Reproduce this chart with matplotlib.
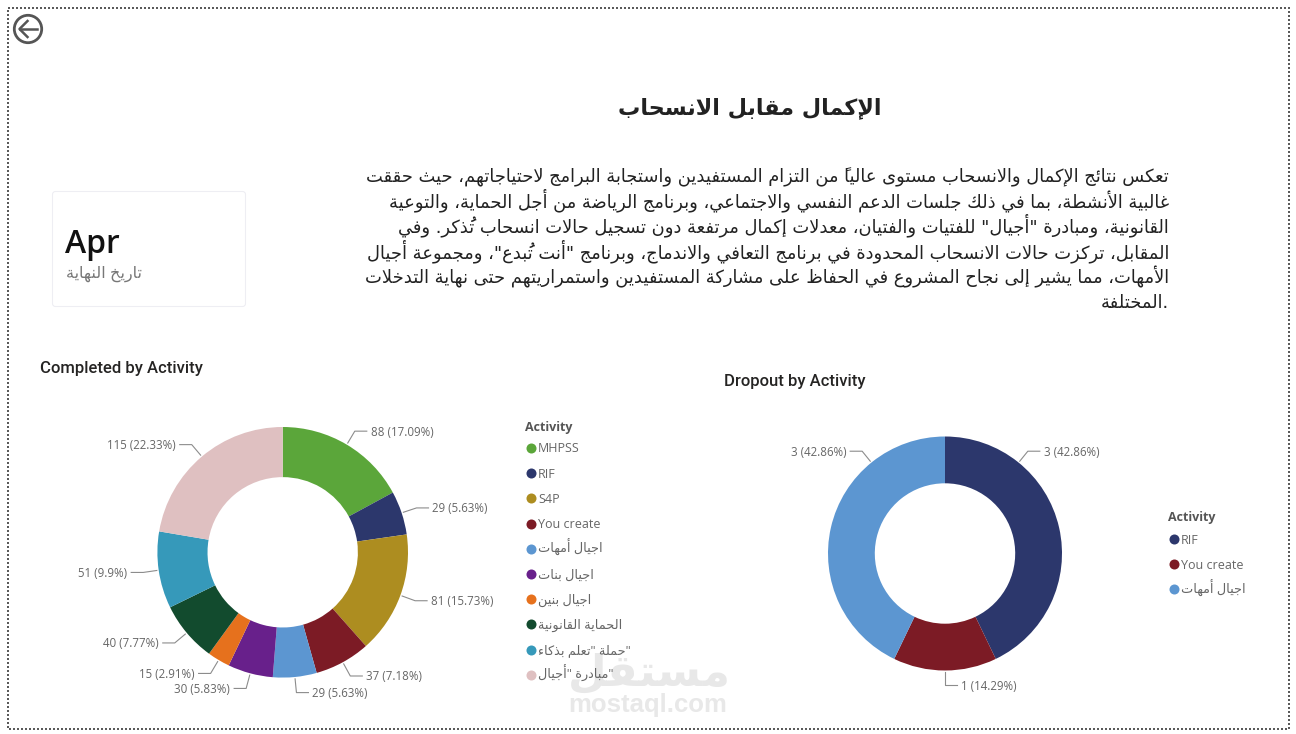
import matplotlib
matplotlib.use("Agg")
import matplotlib.pyplot as plt
import numpy as np
from matplotlib.patches import Circle, FancyBboxPatch, Rectangle

plt.rcParams['font.family'] = ['Open Sans', 'DejaVu Sans']

# data
completed_names = ['MHPSS', 'RIF', 'S4P', 'You create', 'اجيال أمهات', 'اجيال بنات', 'اجيال بنين',
                   'الحماية القانونية', '"حملة "تعلم بذكاء', '"مبادرة "أجيال']
completed_values = [88, 29, 81, 37, 29, 30, 15, 40, 51, 115]
completed_colors = ['#5BA63A', '#2C376C', '#AD8D20', '#7C1B25', '#5C96D1', '#68208B', '#E6711D',
                    '#124B2E', '#3699BA', '#DFC0C1']

dropout_names = ['RIF', 'You create', 'اجيال أمهات']
dropout_values = [3, 1, 3]
dropout_colors = ['#2C376C', '#7C1B25', '#5C96D1']
# power bi moved these labels off the middle of the slice
dropout_label_angles = [39, None, 321]

title = 'الإكمال مقابل الانسحاب'
body_lines = [
    'تعكس نتائج الإكمال والانسحاب مستوى عالياً من التزام المستفيدين واستجابة البرامج لاحتياجاتهم، حيث حققت',
    'غالبية الأنشطة، بما في ذلك جلسات الدعم النفسي والاجتماعي، وبرنامج الرياضة من أجل الحماية، والتوعية',
    'القانونية، ومبادرة "أجيال" للفتيات والفتيان، معدلات إكمال مرتفعة دون تسجيل حالات انسحاب تُذكر. وفي',
    'المقابل، تركزت حالات الانسحاب المحدودة في برنامج التعافي والاندماج، وبرنامج "أنت تُبدع"، ومجموعة أجيال',
    'الأمهات، مما يشير إلى نجاح المشروع في الحفاظ على مشاركة المستفيدين واستمراريتهم حتى نهاية التدخلات',
    '.المختلفة',
]
card_value = 'Apr'
card_label = 'تاريخ النهاية'

# matplotlib does not join arabic letters, so pick the presentation forms by hand
dual = dict(zip('ئبتثجحخسشصضطظعغفقكلمنهي', [0xFE89, 0xFE8F, 0xFE95, 0xFE99, 0xFE9D, 0xFEA1, 0xFEA5, 0xFEB1,
                                             0xFEB5, 0xFEB9, 0xFEBD, 0xFEC1, 0xFEC5, 0xFEC9, 0xFECD, 0xFED1,
                                             0xFED5, 0xFED9, 0xFEDD, 0xFEE1, 0xFEE5, 0xFEE9, 0xFEF1]))
right_only = dict(zip('آأؤإاةدذرزوى', [0xFE81, 0xFE83, 0xFE85, 0xFE87, 0xFE8D, 0xFE93, 0xFEA9, 0xFEAB,
                                       0xFEAD, 0xFEAF, 0xFEED, 0xFEEF]))
lam_alef = {'آ': 0xFEF5, 'أ': 0xFEF7, 'إ': 0xFEF9, 'ا': 0xFEFB}
marks = '\u064b\u064c\u064d\u064e\u064f\u0650\u0651\u0652'


def ar(s):
    items = []
    for ch in s:
        if ch in marks and items:
            items[-1][1] += ch
        elif ch in lam_alef and items and items[-1][0] == 'ل':
            items[-1][0] = 'L' + ch
        else:
            items.append([ch, ''])
    out = []
    for i, (ch, mk) in enumerate(items):
        prev = items[i - 1][0] if i > 0 else ' '
        nxt = items[i + 1][0] if i < len(items) - 1 else ' '
        joins_prev = prev in dual
        joins_next = (nxt in dual or nxt in right_only or nxt[0] == 'L')
        if ch[0] == 'L' and len(ch) == 2:
            g = chr(lam_alef[ch[1]] + (1 if joins_prev else 0))
        elif ch in dual:
            g = chr(dual[ch] + {(0, 0): 0, (1, 0): 1, (0, 1): 2, (1, 1): 3}[(int(joins_prev), int(joins_next))])
        elif ch in right_only:
            g = chr(right_only[ch] + (1 if joins_prev else 0))
        else:
            g = ch
        out.append(mk + g)
    return ''.join(reversed(out))


fig = plt.figure(figsize=(12.96, 7.34), dpi=100)
W, H = 1296, 734
over = fig.add_axes([0, 0, 1, 1], zorder=3)
over.set_xlim(0, W)
over.set_ylim(H, 0)
over.axis('off')
over.patch.set_alpha(0)

# watermark
over.text(649, 686, ar('مستقل'), family='DejaVu Sans', weight='bold', fontsize=32, color='#e8e8e8',
          ha='center', va='baseline', zorder=0)
over.text(648, 712, 'mostaql.com', family='Liberation Sans', weight='bold', fontsize=18.5, color='#e8e8e8',
          ha='center', va='baseline', zorder=0)

# dotted page frame
over.add_patch(Rectangle((7.5, 8), 1281.5, 721, fill=False, edgecolor='#5a5a5a', lw=1.44,
                         linestyle=(0, (1, 1))))

# back button
over.add_patch(Circle((28, 29), 13.7, fill=False, edgecolor='#555555', lw=2))
over.plot([19.5, 37], [29, 29], color='#555555', lw=1.8)
over.plot([27.5, 19.5, 27.5], [21, 29, 37], color='#555555', lw=1.8)

# card
over.add_patch(FancyBboxPatch((52.5, 191.5), 193, 115, boxstyle='round,pad=0,rounding_size=3',
                              facecolor='white', edgecolor='#eeeef3', lw=0.8))
over.text(65, 253, card_value, fontsize=23, weight='semibold', color='#111111', ha='left', va='baseline')
over.text(142, 278, ar(card_label), fontsize=11.6, color='#777777', ha='right', va='baseline')

# heading and paragraph
over.text(750, 114, ar(title), fontsize=16, weight='bold', color='#222222', ha='center', va='baseline',
          family='DejaVu Sans')
y = 182.5
for line in body_lines:
    over.text(1169, y, ar(line), fontsize=12.85, color='#222222', ha='right', va='baseline', family='DejaVu Sans')
    y += 25.2

over.text(40, 373, 'Completed by Activity', family='Roboto', fontsize=12, weight='medium', color='#252423',
          ha='left', va='baseline')
over.text(724, 386, 'Dropout by Activity', family='Roboto', fontsize=12, weight='medium', color='#252423',
          ha='left', va='baseline')


def donut(cx, cy, R, values, colors, label_angles=None):
    ax = fig.add_axes([(cx - R) / W, 1 - (cy + R) / H, 2 * R / W, 2 * R / H], zorder=2)
    wedges, _ = ax.pie(values, colors=colors, startangle=90, counterclock=False, radius=1,
                       wedgeprops=dict(width=0.4, linewidth=0))
    ax.set_xlim(-1, 1)
    ax.set_ylim(-1, 1)
    total = sum(values)
    for i, (w, v) in enumerate(zip(wedges, values)):
        # angle from 12 o'clock, clockwise
        a = 90 - (w.theta1 + w.theta2) / 2
        if label_angles is not None and label_angles[i] is not None:
            a = label_angles[i]
        a = np.radians(a % 360)
        sx, cs = np.sin(a), np.cos(a)
        side = 1 if sx > -1e-6 else -1
        x0, y0 = cx + 1.015 * R * sx, cy - 1.015 * R * cs
        x1, y1 = cx + 1.125 * R * sx, cy - 1.125 * R * cs
        x2 = x1 + side * 12
        over.plot([x0, x1, x2], [y0, y1, y1], color='#8c8c8c', lw=0.8)
        over.text(x2 + side * 4, y1 + 4.5, f"{v} ({round(100 * v / total, 2)}%)", fontsize=8.3, color='#666666',
                  ha='left' if side > 0 else 'right', va='baseline')


donut(282.7, 552.3, 125.3, completed_values, completed_colors)
donut(945, 553.5, 117, dropout_values, dropout_colors, dropout_label_angles)


def legend(x, y, names, colors):
    over.text(x, y + 4.5, 'Activity', fontsize=9, weight='bold', color='#555555', ha='left', va='baseline')
    for i, (n, c) in enumerate(zip(names, colors)):
        row = y + 22 + 25.2 * i
        over.scatter([x + 6], [row], s=52, color=c, linewidths=0)
        if n.isascii():
            over.text(x + 13, row + 4.5, n, fontsize=9, color='#666666', ha='left', va='baseline')
        else:
            over.text(x + 13, row + 4.5, ar(n), fontsize=9.3, color='#666666', ha='left', va='baseline')


legend(525, 426, completed_names, completed_colors)
legend(1168, 517, dropout_names, dropout_colors)

fig.savefig('out.png', dpi=100)
